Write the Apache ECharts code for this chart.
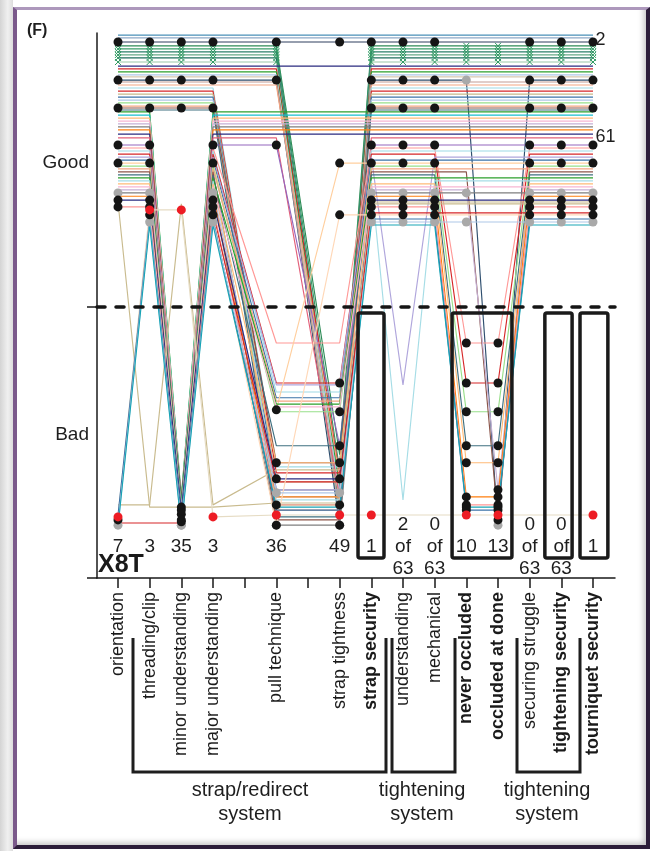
<!DOCTYPE html>
<html><head><meta charset="utf-8">
<script src="https://cdn.jsdelivr.net/npm/echarts@6/dist/echarts.min.js"></script>
<style>
html,body{margin:0;padding:0;background:#fff;}
body{width:652px;height:851px;position:relative;overflow:hidden;}
#shade{position:absolute;left:0;top:0;width:13px;height:851px;background:linear-gradient(to right,#d4d4d4,#f0f0f0 60%,#dcdcdc);}
#card{position:absolute;left:13px;top:7px;width:637px;height:842px;box-sizing:border-box;background:#fff;border-left:4px solid #7b5a8b;border-top:3px solid #ad98bc;border-right:4px solid #2c1d39;border-bottom:4px solid #2c1d39;box-shadow:inset -5px -5px 6px -3px rgba(0,0,0,0.25);}
#chart{position:absolute;left:0;top:0;width:652px;height:851px;}
</style></head>
<body><div id="shade"></div><div id="card"></div><div id="chart"></div>
<script>
// ---------------- data ----------------
const categories = ['orientation','threading/clip','minor understanding','major understanding','','pull technique','','strap tightness','strap security','understanding','mechanical','never occluded','occluded at done','securing struggle','tightening security','tourniquet security'];
const boldCategories = [8, 11, 12, 14, 15];
const tickColumns = [0,1,2,3,4,5,6,7,8,9,10,11,12,13,14,15];
const labelColumns = [0,1,2,3,5,7,8,9,10,11,12,13,14,15];

// bad counts shown under each column
const countColumns = [0,1,2,3,5,7,8,9,10,11,12,13,14,15];
const countTexts = ['7','3','35','3','36','49','1','2\nof\n63','0\nof\n63','10','13','0\nof\n63','0\nof\n63','1'];

// per participant (63): level when Good, level when Bad (left block cols 0-3), level when Bad (cols 5-15)
const goodLevel = [99.2,98.2,96.7,95.3,94.2,93.1,92.0,90.9,89.4,87.9,86.9,85.8,84.7,84.0,82.8,82.1,81.0,
  79.9,78.8,77.7,76.6,75.5,74.5,73.3,72.6,71.9,
  71.2,70.0,68.9,67.8,66.8,65.7,64.6,63.1,61.7,59.1,58.0,56.9,55.8,54.7,53.6,52.5,51.4,50.4,49.3,48.2,47.1,
  46.0,44.9,43.8,42.7,41.6,40.4,39.0,38.3,37.6,36.5,35.4,34.3,33.6,32.1,31.0,29.9];
const badLeft = [null,null,null,null,null,null,null,null,null,null,null,null,null,null,null,null,null,
  null,null,null,null,null,null,null,null,null,
  -69.4,-70.5,-71.6,-72.3,-73.5,-74.6,-75.3,-76.4,-77.5,-73.1,-70.1,-71.2,-72.3,-73.5,-74.6,-75.7,-76.7,-77.8,-69.8,-70.9,-72.0,
  -73.1,-74.2,-75.3,-76.4,-79.7,-77.5,-74.2,-73.1,-72.3,-78.5,-76.7,-78.9,-77.8,-76.0,-79.7,-80.4];
const badRight = [null,null,null,-54.0,-59.5,-65.0,-70.5,-74.2,-77.8,null,-61.7,-66.1,-68.6,-71.6,-79.7,-75.3,-62.8,
  -58.4,-60.6,-63.9,-66.8,-69.4,-72.3,-74.2,-56.9,-76.7,
  null,null,null,null,null,null,null,null,-69.4,-50.7,-13.2,-31.1,-27.8,-28.5,-33.2,-37.6,-38.3,-34.4,-77.8,-50.7,-35.5,
  -70.5,-56.9,-36.5,-66.8,-79.7,-69.4,-62.8,-71.6,-59.5,-72.3,-76.0,-63.9,-79.7,-74.2,-67.9,-73.1];
// state per column: G good, B bad, - no value
const states = [
  'GGGG-G-GGGGGGGGG','GGGG-G-GGGGGGGGG','GGGG-G-GGGGGGGGG',
  'GGGG-G-BGGGGGGGG','GGGG-G-BGGGGGGGG','GGGG-G-BGGGGGGGG','GGGG-G-BGGGGGGGG','GGGG-G-BGGGGGGGG','GGGG-G-BGGGGGGGG',
  'GGGG-G-GGGGGGGGG',
  'GGGG-G-BGGGGGGGG','GGGG-G-BGGGGGGGG','GGGG-G-BGGGGGGGG','GGGG-G-BGGGGGGGG','GGGG-G-BGGGGBGGG','GGGG-G-BGGGGGGGG','GGGG-G-BGGGGGGGG',
  'GGGG-B-BGGGGGGGG','GGGG-B-BGGGGGGGG','GGGG-B-BGGGGGGGG','GGGG-B-BGGGGGGGG','GGGG-B-BGGGGGGGG','GGGG-B-BGGGGGGGG','GGGG-B-BGGGGGGGG','GGGG-B-BGGGGGGGG','GGGG-B-BGGGGGGGG',
  'GGBG-G-GGGGGGGGG','GGBG-G-GGGGGGGGG','GGBG-G-GGGGGGGGG','GGBG-G-GGGGGGGGG','GGBG-G-GGGGGGGGG','GGBG-G-GGGGGGGGG','GGBG-G-GGGGGGGGG','GGBG-G-GGGGGGGGG',
  'GGBG-G-BGGGGGGGG','GGBG-G-BGGGGGGGG',
  'GGBG-B-BGGGBBGGG','GGBG-B-BGGGGGGGG','GGBG-B-BGGGBBGGG','GGBG-B-BGBGGGGGG','GGBG-B-BGGGGGGGG','GGBG-B-GGGGGGGGG','GGBG-B-BGGGBBGGG',
  'GGBG-B-BGGGGGGGG','GGBG-B-BGGGGBGGG','GGBG-B-BGGGBBGGG','GGBG-B-BGGGGGGGG','GGBG-B-BGBGGGGGG','GGBG-B-BGGGBBGGG','GGBG-B-BGGGGGGGG',
  'GGBG-B-BGGGGBGGG','GGBG-B-BGGGGGGGG','GGBG-B-BGGGBBGGG','GGBG-B-BGGGGGGGG',
  'GBBB-B-BGGGGGGGG','BBGB-B-BGGGGGGGG','GGBG-B-BGGGBBGGG','BGGB-B-BBBBBBBBB','BBBG-B-BGGGGGGGG','BGBG-B-GGGGGGGGG',
  'BGBG-B-BGGGBBGGG','BGBG-B-BGGGGGGGG','BGBG-B-BGGGBBGGG'];
// dot marks per participant: k black, g grey, r red, . none
const dotMarks = [
  [2,'kkkk.k.kkkk..kkk'],[14,'kkkk.k.kkkkggkkk'],[24,'kkkk.k.kkkk..kkk'],[35,'kkkk.k.kkkk..kkk'],
  [41,'kkkk.k.kkkk..kkk'],[51,'gggg.g.ggggg.ggg'],[53,'kkkk.k.kkkk..kkk'],[56,'kkkk.k.kkkkkkkkk'],
  [57,'rrrr.r.rr..rr..r'],[59,'kkkk.k.kkkk..kkk'],[61,'gggg.g.ggggg.ggg'],
  [36,'...........kk...'],[38,'.......k...kk...'],[42,'.......k...kk...'],[45,'...........kk...'],
  [48,'...........kk...'],[52,'...........kk...'],[60,'...........kk...'],[62,'...........kk...'],
  [44,'............k...'],[50,'............k...']];
const crossMarked = [3,4,5,6,7,8];
// outlined column boxes: [from column, to column]
const boxSpans = [[7.58,8.40],[10.55,12.44],[13.48,14.34],[14.59,15.47]];
const boxTop = -2.2, boxBottom = -91.7;
const countLevel = -87.6;
const endLabels = [[15,97.4,'2'],[15,61.9,'61']];

// ---------------- styles ----------------
const FONT = '"Liberation Sans", Arial, Helvetica, sans-serif';
const palette = ['#3b73a8','#f4a582','#2ca02c','#f7b6d2','#ff7f0e','#9467bd','#d62728','#aec7e8','#8c564b','#17becf',
  '#c5b0d5','#2b2b80','#ff9896','#c7b98a','#98df8a','#3f7080','#ffbb78','#7f7f7f','#e3607a','#9edae5'];
const topPalette = ['#4a90b8','#8fa9c8','#2f3f5f','#2e8b57','#3a9d6a','#2b7f6a','#66aa88','#1f6f5f','#9cc8a8','#2b2b80',
  '#d62728','#2ca02c','#aec7e8','#d8c8b0','#2f4f6f','#c49c94','#f4a582'];
const colourOverride = {54:'#c9bb8e',55:'#c9bb8e',57:'#e6dcc4',39:'#b0a6dc',47:'#a6dde6',62:'#18a5b5',41:'#ffcf9f',59:'#ffd8b8'};
const dotColour = {k:'#151515', g:'#a9a9a9', r:'#ed1c24'};

function lineColour(p){
  if (colourOverride[p]) return colourOverride[p];
  if (p < topPalette.length) return topPalette[p];
  return palette[(p * 7) % palette.length];
}
function levelAt(p, c){
  const s = states[p][c];
  if (s === 'G') return goodLevel[p];
  if (s === 'B') return c < 4 ? badLeft[p] : badRight[p];
  return null;
}
function pointsOf(p){
  const pts = [];
  for (let c = 0; c < 16; c++){ const v = levelAt(p, c); if (v !== null) pts.push([c, v]); }
  return pts;
}

const series = [];
for (let p = 0; p < states.length; p++){
  series.push({type:'line', data:pointsOf(p), symbol:'none', silent:true, z:2,
    lineStyle:{width:1.15, color:lineColour(p), opacity:1}});
}
const dotData = {k:[], g:[], r:[]};
dotMarks.forEach(([p, s]) => {
  for (let c = 0; c < 16; c++){ const ch = s[c]; if (dotData[ch]){ const v = levelAt(p, c); if (v !== null) dotData[ch].push([c, v]); } }
});
['g','k','r'].forEach(k => series.push({type:'scatter', data:dotData[k], symbol:'circle', symbolSize:9, silent:true, z:4,
  itemStyle:{color:dotColour[k], opacity:1}}));
const crossData = [];
crossMarked.forEach(p => { for (let c = 0; c < 16; c++) if (states[p][c] === 'G') crossData.push([c, goodLevel[p]]); });
series.push({type:'scatter', data:crossData, symbol:'path://M0 0L8 8M8 0L0 8', symbolSize:6, silent:true, z:3,
  itemStyle:{color:'none', borderColor:'#2f9a62', borderWidth:1, opacity:1}});

series.push({type:'custom', silent:true, z:6, clip:false,
  renderItem:(params, api) => {
    const a = api.coord([api.value(0), api.value(2)]);
    const b = api.coord([api.value(1), api.value(3)]);
    return {type:'rect', shape:{x:a[0], y:a[1], width:b[0]-a[0], height:b[1]-a[1], r:2},
      style:{fill:'none', stroke:'#1a1a1a', lineWidth:3.5}};
  },
  data: boxSpans.map(b => [b[0], b[1], boxTop, boxBottom])});

series.push({type:'scatter', silent:true, z:7, symbolSize:1, itemStyle:{color:'rgba(0,0,0,0)', opacity:1},
  data: countColumns.map((c, i) => [c, countLevel, countTexts[i]]),
  label:{show:true, position:'inside', formatter:(d) => d.value[2], fontSize:19, lineHeight:22, color:'#1e1e1e', fontFamily:FONT},
  markLine:{silent:true, symbol:['none','none'], label:{show:false}, animation:false,
    lineStyle:{type:[8,11], width:3.5, color:'#151515', cap:'round'}, data:[{yAxis:0}]}});
series.push({type:'scatter', silent:true, z:7, symbolSize:1, itemStyle:{color:'rgba(0,0,0,0)', opacity:1},
  data: endLabels,
  label:{show:true, position:'right', distance:2, formatter:(d) => d.value[2], fontSize:18, color:'#1e1e1e', fontFamily:FONT}});

const axisLineStyle = {color:'#1a1a1a', width:1.5};
const option = {
  animation:false,
  grid:{left:97, right:37, top:33, bottom:273, containLabel:false},
  xAxis:{type:'value', min:-0.663, max:15.695,
    axisLine:{show:true, onZero:false, lineStyle:axisLineStyle},
    splitLine:{show:false},
    axisTick:{show:true, customValues:tickColumns, length:10, lineStyle:axisLineStyle},
    axisLabel:{show:true, customValues:labelColumns, rotate:90, margin:14, fontSize:18, color:'#1a1a1a', fontFamily:FONT,
      formatter:(v) => { const i = Math.round(v); const n = categories[i]; return boldCategories.includes(i) ? '{b|' + n + '}' : n; },
      rich:{b:{fontWeight:'bold', fontSize:18, color:'#1a1a1a', fontFamily:FONT}}}},
  yAxis:{type:'value', min:-99, max:100,
    axisLine:{show:true, onZero:false, lineStyle:axisLineStyle},
    splitLine:{show:false},
    axisTick:{show:true, customValues:[0,-99], length:10, lineStyle:axisLineStyle},
    axisLabel:{show:true, customValues:[52.5,-46.8], margin:8, fontSize:19, color:'#1e1e1e', fontFamily:FONT,
      formatter:(v) => v > 0 ? 'Good' : 'Bad'}},
  graphic:[
    {type:'text', left:27, top:23, style:{text:'(F)', fontSize:16, fontWeight:'bold', fontFamily:FONT, fill:'#1e1e1e'}},
    {type:'text', left:98, top:553, style:{text:'X8T', fontSize:25, fontWeight:'bold', fontFamily:FONT, fill:'#1a1a1a'}},
    {type:'polyline', shape:{points:[[133,638],[133,772],[386,772],[386,638]]}, style:{stroke:'#1e1e1e', lineWidth:3, fill:null}},
    {type:'polyline', shape:{points:[[392,638],[392,772],[455,772],[455,638]]}, style:{stroke:'#1e1e1e', lineWidth:3, fill:null}},
    {type:'polyline', shape:{points:[[517,638],[517,772],[580,772],[580,638]]}, style:{stroke:'#1e1e1e', lineWidth:3, fill:null}},
    {type:'text', x:250, y:778, style:{text:'strap/redirect\nsystem', align:'center', verticalAlign:'top', fontSize:20, lineHeight:24, fontFamily:FONT, fill:'#1e1e1e'}},
    {type:'text', x:422, y:778, style:{text:'tightening\nsystem', align:'center', verticalAlign:'top', fontSize:20, lineHeight:24, fontFamily:FONT, fill:'#1e1e1e'}},
    {type:'text', x:547, y:778, style:{text:'tightening\nsystem', align:'center', verticalAlign:'top', fontSize:20, lineHeight:24, fontFamily:FONT, fill:'#1e1e1e'}}
  ],
  series: series
};
const chart = echarts.init(document.getElementById('chart'), null, {renderer:'canvas'});
chart.setOption(option);
</script></body></html>
